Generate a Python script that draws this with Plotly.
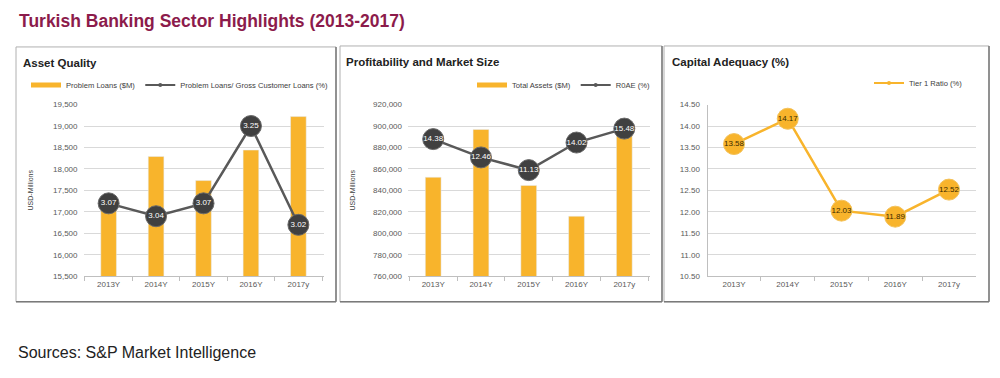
import plotly.graph_objects as go

# ---------------- data ----------------
years = ["2013Y", "2014Y", "2015Y", "2016Y", "2017y"]

problem_loans = [17150, 18290, 17730, 18440, 19220]          # $M
problem_loans_ratio = [3.07, 3.04, 3.07, 3.25, 3.02]         # %

total_assets = [852300, 896800, 844700, 816000, 894000]      # $M
roae = [14.38, 12.46, 11.13, 14.02, 15.48]                   # %

tier1_ratio = [13.58, 14.17, 12.03, 11.89, 12.52]            # %

# ---------------- styles ----------------
ORANGE = "#F8B42C"
DGREY = "#595959"
CIRCLE = "#404040"
GRID = "#D9D9D9"
AXIS = "#BFBFBF"
TICKC = "#595959"
FONT = "Liberation Sans, Arial, sans-serif"
W, H = 1000, 378


def px(x):
    return x / W


def py(y):
    return (H - y) / H


fig = go.Figure()

# ---- Panel 1: Asset Quality ----
fig.add_trace(go.Bar(x=years, y=problem_loans, marker_color=ORANGE, width=0.33,
                     xaxis="x", yaxis="y", showlegend=False, hoverinfo="skip"))
fig.add_trace(go.Scatter(x=years, y=problem_loans_ratio, xaxis="x", yaxis="y2",
                         mode="lines+markers+text", line=dict(color=DGREY, width=2.5),
                         marker=dict(size=21, color=CIRCLE, line=dict(color="#6a6a6a", width=1)),
                         text=[f"{v:.2f}" for v in problem_loans_ratio], textposition="middle center",
                         textfont=dict(color="white", size=8, family=FONT),
                         showlegend=False, hoverinfo="skip"))
# legend proxies
fig.add_trace(go.Scatter(x=[None], y=[None], xaxis="x", yaxis="y", mode="lines",
                         line=dict(color=ORANGE, width=5), name="Problem Loans ($M)", legend="legend"))
fig.add_trace(go.Scatter(x=[None], y=[None], xaxis="x", yaxis="y2", mode="lines+markers",
                         line=dict(color=DGREY, width=2), marker=dict(size=4, color=DGREY),
                         name="Problem Loans/ Gross Customer Loans (%)", legend="legend"))

# ---- Panel 2: Profitability and Market Size ----
fig.add_trace(go.Bar(x=years, y=total_assets, marker_color=ORANGE, width=0.33,
                     xaxis="x2", yaxis="y3", showlegend=False, hoverinfo="skip"))
fig.add_trace(go.Scatter(x=years, y=roae, xaxis="x2", yaxis="y4",
                         mode="lines+markers+text", line=dict(color=DGREY, width=2.5),
                         marker=dict(size=21, color=CIRCLE, line=dict(color="#6a6a6a", width=1)),
                         text=[f"{v:.2f}" for v in roae], textposition="middle center",
                         textfont=dict(color="white", size=8, family=FONT),
                         showlegend=False, hoverinfo="skip"))
fig.add_trace(go.Scatter(x=[None], y=[None], xaxis="x2", yaxis="y3", mode="lines",
                         line=dict(color=ORANGE, width=5), name="Total Assets ($M)", legend="legend2"))
fig.add_trace(go.Scatter(x=[None], y=[None], xaxis="x2", yaxis="y4", mode="lines+markers",
                         line=dict(color=DGREY, width=2), marker=dict(size=4, color=DGREY),
                         name="R0AE (%)", legend="legend2"))

# ---- Panel 3: Capital Adequacy ----
fig.add_trace(go.Scatter(x=years, y=tier1_ratio, xaxis="x3", yaxis="y5",
                         mode="lines+markers+text", line=dict(color=ORANGE, width=2.5),
                         marker=dict(size=21, color=ORANGE, line=dict(color="#f4c25a", width=1)),
                         text=[f"{v:.2f}" for v in tier1_ratio], textposition="middle center",
                         textfont=dict(color="#3a2a00", size=8, family=FONT),
                         showlegend=False, hoverinfo="skip"))
fig.add_trace(go.Scatter(x=[None], y=[None], xaxis="x3", yaxis="y5", mode="lines+markers",
                         line=dict(color=ORANGE, width=2), marker=dict(size=4, color=ORANGE),
                         name="Tier 1 Ratio (%)", legend="legend3"))

ydom = [py(279), py(103)]

xcommon = dict(type="category", showline=True, linecolor=AXIS, linewidth=1,
               ticks="outside", tickson="boundaries", ticklen=4, tickcolor=AXIS,
               tickfont=dict(size=8, color=TICKC, family=FONT), showgrid=False,
               fixedrange=True)
ycommon = dict(showgrid=True, gridcolor=GRID, gridwidth=1, zeroline=False,
               tickfont=dict(size=8, color=TICKC, family=FONT), ticks="", ticklabelstandoff=5,
               fixedrange=True)

legcommon = dict(orientation="h", yanchor="middle", font=dict(size=7.6, color="#404040", family=FONT),
                 bgcolor="rgba(0,0,0,0)", itemwidth=30, tracegroupgap=0, itemclick=False)

fig.update_layout(
    width=W, height=H, margin=dict(l=0, r=0, t=0, b=0),
    paper_bgcolor="white", plot_bgcolor="white",
    font=dict(family=FONT),
    bargap=0.5,
    xaxis=dict(domain=[px(83.5), px(323.5)], anchor="y", **xcommon),
    yaxis=dict(domain=ydom, anchor="x", range=[15500, 19500], dtick=500, tickformat=",d", **ycommon),
    yaxis2=dict(overlaying="y", anchor="x", range=[2.9, 3.3], visible=False, fixedrange=True),
    xaxis2=dict(domain=[px(408), px(649.5)], anchor="y3", **xcommon),
    yaxis3=dict(domain=ydom, anchor="x2", range=[760000, 920000], dtick=20000, tickformat=",d", **ycommon),
    yaxis4=dict(overlaying="y3", anchor="x2", range=[0, 18], visible=False, fixedrange=True),
    xaxis3=dict(domain=[px(707.5), px(975.5)], anchor="y5", **xcommon),
    yaxis5=dict(domain=ydom, anchor="x3", range=[10.5, 14.5], dtick=0.5, tickformat=".2f",
                showline=True, linecolor=AXIS, **ycommon),
    legend=dict(x=px(26), y=py(83), xanchor="left", **legcommon),
    legend2=dict(x=px(655), y=py(83), xanchor="right", **legcommon),
    legend3=dict(x=px(968), y=py(81), xanchor="right", **legcommon),
)

# panel borders (light frame + darker right/bottom edges)
panels = [(16, 44, 336, 305), (340, 43, 662, 305), (664, 43, 989, 305)]
for (x0, y0, x1, y1) in panels:
    fig.add_shape(type="rect", xref="paper", yref="paper", x0=px(x0), x1=px(x1), y0=py(y1), y1=py(y0),
                  line=dict(color="#B0B0B0", width=1), fillcolor="rgba(0,0,0,0)", layer="below")
    fig.add_shape(type="line", xref="paper", yref="paper", x0=px(x1), x1=px(x1), y0=py(y1), y1=py(y0),
                  line=dict(color="#7A7A7A", width=1.5))
    fig.add_shape(type="line", xref="paper", yref="paper", x0=px(x0), x1=px(x1), y0=py(y1), y1=py(y1),
                  line=dict(color="#7A7A7A", width=1.5))

annots = [
    dict(text="<b>Turkish Banking Sector Highlights (2013-2017)</b>", x=px(17), y=py(17),
         font=dict(size=17.5, color="#8C1B4B", family=FONT)),
    dict(text="<b>Asset Quality</b>", x=px(21), y=py(60), font=dict(size=11.5, color="#222222", family=FONT)),
    dict(text="<b>Profitability and Market Size</b>", x=px(344), y=py(59),
         font=dict(size=11.5, color="#222222", family=FONT)),
    dict(text="<b>Capital Adequacy (%)</b>", x=px(670), y=py(59), font=dict(size=11.5, color="#222222", family=FONT)),
    dict(text="Sources: S&P Market Intelligence", x=px(16), y=py(357),
         font=dict(size=16, color="#222222", family=FONT)),
]
for a in annots:
    fig.add_annotation(xref="paper", yref="paper", xanchor="left", yanchor="middle", showarrow=False, **a)

for xc in (30, 352):
    fig.add_annotation(text="USD-Millions", xref="paper", yref="paper", x=px(xc), y=py(191),
                       textangle=-90, showarrow=False, xanchor="center", yanchor="middle",
                       font=dict(size=7, color="#404040", family=FONT))

fig.write_html("out.html", config={"displayModeBar": False},
               post_script="document.body.style.margin='0';document.body.style.overflow='hidden';")
